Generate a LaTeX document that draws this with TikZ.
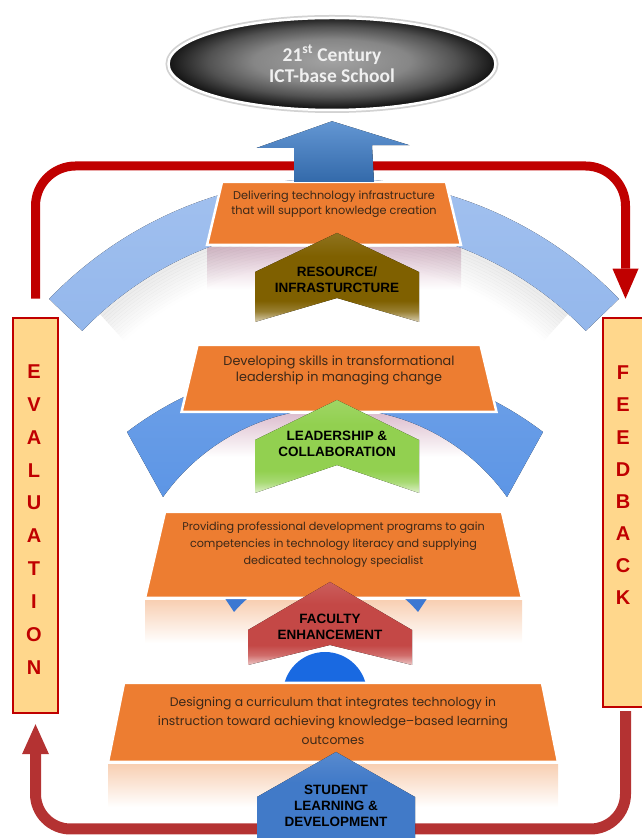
\documentclass[tikz,border=0pt]{standalone}
\usepackage{fontspec}
\setmainfont{Liberation Sans}
\newfontfamily\boxfont{Poppins}
\newfontfamily\titlefont{Carlito}
\usetikzlibrary{shapes.geometric,arrows.meta}

\definecolor{boxorange}{RGB}{237,125,49}
\definecolor{boxink}{RGB}{60,40,25}
\definecolor{loopred}{RGB}{192,0,0}
\definecolor{returnred}{RGB}{180,50,50}
\definecolor{sidefill}{RGB}{255,215,140}
\definecolor{bandpale}{RGB}{125,168,232}
\definecolor{bandmid}{RGB}{66,132,225}
\definecolor{banddeep}{RGB}{60,120,210}
\definecolor{discblue}{RGB}{25,105,225}
\definecolor{upblue}{RGB}{60,124,200}
\definecolor{chevolive}{RGB}{127,96,0}
\definecolor{chevgreen}{RGB}{146,208,80}
\definecolor{chevred}{RGB}{196,72,70}
\definecolor{chevblue}{RGB}{65,122,200}
\definecolor{lilac}{RGB}{222,192,208}
\definecolor{peach}{RGB}{248,208,180}
\colorlet{chevcol}{black}

\pgfdeclareverticalshading[chevcol]{chevshade}{100bp}{color(0bp)=(chevcol!30!white); color(25bp)=(chevcol!30!white); color(31bp)=(chevcol!80!white); color(37bp)=(chevcol); color(62bp)=(chevcol); color(75bp)=(chevcol!88!white); color(100bp)=(chevcol!88!white)}
\pgfdeclareradialshading{schoolshade}{\pgfpoint{0bp}{2bp}}{color(0bp)=(gray!72); color(12bp)=(gray!95); color(19bp)=(black!68); color(25bp)=(black!92); color(50bp)=(black!92)}

\newcommand\steplist{deliver/334/624.5/254/63/15/633.5/11.3/15/lilac/{Delivering technology infrastructure\\that will support knowledge creation},
  develop/339/459.5/315/67/16/468/12.8/16/lilac/{Developing skills in  transformational\\leadership in managing change},
  provide/333.5/283/377/86/20/293/11.2/17/peach/{Providing professional development programs to gain\\competencies in technology literacy and supplying\\dedicated technology specialist},
  design/333/115.5/450/79/16/117/12.4/19/peach/{Designing a curriculum that integrates technology in\\instruction toward achieving knowledge–based learning\\outcomes}}

\tikzset{
  obox/.style={fill=boxorange, draw=white, line width=2.5pt, line join=miter},
  otext/.style={text=boxink, align=center, inner sep=0pt},
  reflect/.style={top color=#1, bottom color=white},
  sidebox/.style={rectangle, fill=sidefill, draw=loopred, line width=2.5pt, minimum width=45pt, inner sep=0pt},
  sideletter/.style={font=\fontsize{20}{24}\selectfont\bfseries, text=loopred, inner sep=0pt},
  chevtext/.style={font=\fontsize{13.5}{16}\selectfont\bfseries, align=center, inner sep=0pt},
  looparrow/.style={draw=loopred, line width=9pt, rounded corners=40pt, -{Triangle[width=26pt,length=30pt,line width=0pt]}},
  returnarrow/.style={draw=returnred, line width=11pt, rounded corners=35pt, -{Triangle[width=27pt,length=30pt,line width=0pt]}},
  school/.style={ellipse, minimum width=327pt, minimum height=92pt, shading=schoolshade, draw=white, line width=2.5pt, preaction={draw=gray!35, line width=6pt}, font=\titlefont\bfseries\fontsize{19.5}{21}\selectfont, text=white!88!gray, align=center}
}

\begin{document}
\begin{tikzpicture}[x=1pt,y=1pt]
\useasboundingbox (0,0) rectangle (641,838);

% reflections under the steps
\foreach \nm/\bx/\by/\bw/\bh/\ind/\ty/\fs/\ls/\rc/\txt in \steplist
  \fill[reflect=\rc] (\bx-\bw/2,\by-\bh/2-3) rectangle (\bx+\bw/2,\by-\bh/2-45);

% soft shade inside the upper ring
\foreach \r [evaluate=\r as \op using {0.16*(1-\r/36)}] in {0,3,...,33}
  \draw[gray, line width=3.2pt, opacity=\op] (334,264) ++(132:{348-\r}) arc[start angle=132,end angle=48,radius={348-\r}];

% rings
\fill[top color=bandpale!70!white, bottom color=bandpale] (334,264) ++(136:396) arc[start angle=136,end angle=44,radius=396] -- ++(224:46) arc[start angle=44,end angle=136,radius=350] -- cycle;
\fill[top color=bandmid!75!white, bottom color=bandmid] (335,132) ++(127.2:344) arc[start angle=127.2,end angle=52.8,radius=344] -- (507,341) arc[start angle=35.4,end angle=144.6,radius=211] -- cycle;
\fill[banddeep] (326,98) ++(125.4:186.5) arc[start angle=125.4,end angle=54.6,radius=186.5] -- (418,226) arc[start angle=40.3,end angle=139.7,radius=120.6] -- cycle;
\fill[discblue] (325,144) circle[radius=42];

% evaluation / feedback loop
\node[sidebox, minimum height=395pt] (evaluation) at (35.5,322.5) {};
\node[sidebox, minimum height=389pt] (feedback) at (625.5,325.5) {};
\foreach \l [count=\i] in {E,V,A,L,U,A,T,I,O,N}
  \node[sideletter] (eval\i) at (34,{466-32.8*(\i-1)}) {\l};
\foreach \l [count=\i] in {F,E,E,D,B,A,C,K}
  \node[sideletter] (feed\i) at (623,{465-32.1*(\i-1)}) {\l};
\coordinate (looptop) at (334,672);
\coordinate (loopbottom) at (334,9);
\draw[looparrow] ([yshift=18pt]evaluation.north) |- (looptop) -| ([yshift=18pt]feedback.north);
\draw[returnarrow] ([yshift=-3pt]feedback.south) |- (loopbottom) -| ([yshift=-10pt]evaluation.south);

% steps
\foreach \nm/\bx/\by/\bw/\bh/\ind/\ty/\fs/\ls/\rc/\txt in \steplist
{
  \draw[obox] (\bx-\bw/2,\by-\bh/2) -- (\bx+\bw/2,\by-\bh/2)
    -- (\bx+\bw/2-\ind,\by+\bh/2) -- (\bx-\bw/2+\ind,\by+\bh/2) -- cycle;
  \node[otext, font=\boxfont\fontsize{\fs}{\ls}\selectfont] (\nm) at (\bx,\ty) {\txt};
}

% arrow up to the school
\coordinate (delivertop) at (334,656);
\node[school] (school) at (332,774) {21\textsuperscript{st} Century\\ICT-base School};
\fill[top color=upblue!80!white, bottom color=upblue!85!black] ([xshift=-40pt]delivertop) -- ++(0,34) -- ++(-37.5,0) -- ([yshift=-10pt]school.south) -- ++(77.5,-24) -- ++(-37.5,0) -- ([xshift=40pt]delivertop) -- cycle;

% chevrons
\foreach \cx/\hw/\tip/\sh/\co/\no/\col in {337/82/605/566/516/540/chevolive,
  337/82/438/398/345/373/chevgreen,
  330/82/256/208/173/193/chevred,
  336/79/86/41/-30/-5/chevblue}
{
  \colorlet{chevcol}{\col}
  \fill[shading=chevshade] (\cx-\hw,\sh) -- (\cx,\tip) -- (\cx+\hw,\sh) -- (\cx+\hw,\co) -- (\cx,\no) -- (\cx-\hw,\co) -- cycle;
}
\node[chevtext] (resource) at (337,558.5) {RESOURCE/\\INFRASTURCTURE};
\node[chevtext] (leadership) at (337,394) {LEADERSHIP \&\\COLLABORATION};
\node[chevtext] (faculty) at (330,211) {FACULTY\\ENHANCEMENT};
\node[chevtext] (student) at (336,32) {STUDENT\\LEARNING \&\\DEVELOPMENT};
\end{tikzpicture}
\end{document}
